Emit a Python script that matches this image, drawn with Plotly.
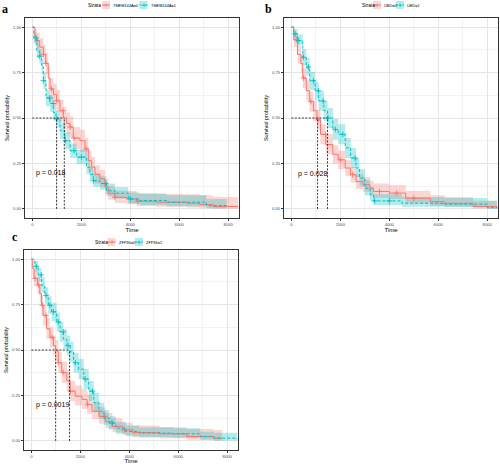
import numpy as np
import plotly.graph_objects as go

RED = "#F8766D"
CYAN = "#00BFC4"
RED_F = "rgba(248,118,109,0.30)"
CYAN_F = "rgba(0,191,196,0.30)"

# ---------------- Panel a: TMEM144A ----------------
a0_t = [0, 100, 180, 300, 450, 545, 650, 720, 860, 990, 1130, 1265, 1400, 1540, 1670, 1945, 2150, 2285, 2420, 2560, 2760, 2965, 3100, 3370, 3850, 4260, 5070, 6300, 6840, 7380, 8400]
a0_s = [1.0, 0.95, 0.925, 0.89, 0.85, 0.80, 0.72, 0.66, 0.63, 0.595, 0.54, 0.50, 0.47, 0.45, 0.39, 0.375, 0.33, 0.265, 0.23, 0.19, 0.165, 0.12, 0.086, 0.064, 0.055, 0.042, 0.037, 0.031, 0.024, 0.013, 0.009]
a0_lo = [1.0, 0.91, 0.88, 0.84, 0.80, 0.74, 0.66, 0.60, 0.57, 0.535, 0.48, 0.44, 0.41, 0.39, 0.33, 0.315, 0.27, 0.21, 0.18, 0.14, 0.12, 0.08, 0.05, 0.032, 0.025, 0.016, 0.012, 0.008, 0.004, 0.001, 0.0]
a0_hi = [1.0, 0.99, 0.97, 0.94, 0.90, 0.86, 0.78, 0.72, 0.69, 0.655, 0.60, 0.56, 0.53, 0.51, 0.45, 0.435, 0.39, 0.32, 0.285, 0.24, 0.215, 0.165, 0.125, 0.10, 0.10, 0.085, 0.082, 0.08, 0.075, 0.065, 0.065]
a0_cens = [200, 450, 560, 780, 1000, 1250, 1550, 1700, 2200, 3370, 4300]

a1_t = [0, 60, 180, 285, 380, 450, 560, 720, 860, 965, 1130, 1330, 1540, 1810, 2215, 2350, 2490, 2760, 3030, 3370, 3920, 4390, 5480, 7110, 7930]
a1_s = [1.0, 0.94, 0.87, 0.84, 0.78, 0.705, 0.61, 0.58, 0.53, 0.495, 0.43, 0.375, 0.32, 0.285, 0.23, 0.19, 0.155, 0.14, 0.10, 0.086, 0.055, 0.046, 0.037, 0.018, 0.009]
a1_lo = [1.0, 0.91, 0.83, 0.80, 0.74, 0.66, 0.565, 0.535, 0.485, 0.45, 0.385, 0.33, 0.28, 0.245, 0.19, 0.155, 0.12, 0.105, 0.07, 0.057, 0.03, 0.022, 0.015, 0.003, 0.0]
a1_hi = [1.0, 0.97, 0.91, 0.88, 0.82, 0.75, 0.655, 0.625, 0.575, 0.54, 0.475, 0.42, 0.36, 0.325, 0.27, 0.23, 0.195, 0.18, 0.14, 0.12, 0.09, 0.085, 0.075, 0.055, 0.05]
a1_cens = [150, 300, 450, 700, 850, 1000, 1350, 1700, 2000, 2500, 3000, 4000]

# ---------------- Panel b: UBD ----------------
b0_t = [0, 100, 250, 390, 465, 610, 750, 900, 1045, 1190, 1405, 1695, 1915, 2200, 2420, 2640, 2930, 3215, 3360, 4000, 4670, 5680, 6260, 7420, 8400]
b0_s = [1.0, 0.93, 0.85, 0.80, 0.72, 0.65, 0.59, 0.54, 0.49, 0.41, 0.354, 0.30, 0.27, 0.225, 0.188, 0.15, 0.133, 0.114, 0.096, 0.087, 0.059, 0.04, 0.031, 0.013, 0.004]
b0_lo = [1.0, 0.89, 0.80, 0.75, 0.665, 0.595, 0.535, 0.485, 0.435, 0.355, 0.30, 0.25, 0.22, 0.18, 0.145, 0.11, 0.095, 0.078, 0.062, 0.054, 0.032, 0.018, 0.012, 0.002, 0.0]
b0_hi = [1.0, 0.97, 0.90, 0.85, 0.775, 0.705, 0.645, 0.595, 0.545, 0.465, 0.41, 0.35, 0.32, 0.27, 0.23, 0.19, 0.175, 0.155, 0.14, 0.13, 0.10, 0.075, 0.065, 0.045, 0.035]
b0_cens = [200, 500, 800, 1100, 1400, 2000, 2500, 3600, 4300, 5000]

b1_t = [0, 100, 250, 465, 610, 750, 970, 1115, 1330, 1480, 1695, 1915, 2200, 2420, 2640, 2780, 3000, 3215, 3360, 4520, 6260, 8000, 8400]
b1_s = [1.0, 0.963, 0.926, 0.834, 0.78, 0.705, 0.65, 0.594, 0.54, 0.50, 0.437, 0.41, 0.336, 0.28, 0.225, 0.17, 0.114, 0.077, 0.044, 0.031, 0.026, 0.007, 0.007]
b1_lo = [1.0, 0.94, 0.90, 0.79, 0.735, 0.655, 0.60, 0.54, 0.485, 0.445, 0.38, 0.355, 0.28, 0.225, 0.175, 0.125, 0.075, 0.045, 0.02, 0.012, 0.009, 0.0, 0.0]
b1_hi = [1.0, 0.99, 0.96, 0.88, 0.83, 0.755, 0.70, 0.65, 0.595, 0.555, 0.495, 0.465, 0.39, 0.335, 0.28, 0.22, 0.16, 0.12, 0.08, 0.065, 0.06, 0.045, 0.045]
b1_cens = [150, 300, 500, 700, 900, 1100, 1300, 1500, 1800, 2100, 2600, 3400, 4000]

# ---------------- Panel c: ZFP36 ----------------
c0_t = [0, 40, 110, 250, 345, 415, 480, 620, 760, 900, 990, 1100, 1240, 1450, 1585, 1790, 2070, 2275, 2480, 2760, 3030, 3310, 3720, 4140, 5240, 6340, 7450, 7790]
c0_s = [1.0, 0.95, 0.894, 0.857, 0.81, 0.746, 0.69, 0.617, 0.57, 0.524, 0.496, 0.43, 0.376, 0.33, 0.274, 0.246, 0.228, 0.20, 0.163, 0.135, 0.107, 0.08, 0.061, 0.046, 0.039, 0.024, 0.015, 0.015]
c0_lo = [1.0, 0.91, 0.85, 0.81, 0.76, 0.69, 0.635, 0.56, 0.515, 0.47, 0.44, 0.375, 0.32, 0.275, 0.22, 0.195, 0.175, 0.15, 0.12, 0.095, 0.07, 0.048, 0.032, 0.02, 0.015, 0.006, 0.001, 0.001]
c0_hi = [1.0, 0.99, 0.94, 0.905, 0.86, 0.80, 0.745, 0.675, 0.625, 0.58, 0.555, 0.49, 0.435, 0.39, 0.33, 0.305, 0.285, 0.255, 0.215, 0.185, 0.155, 0.125, 0.10, 0.085, 0.075, 0.065, 0.06, 0.06]
c0_cens = [150, 300, 450, 600, 850, 1100, 1300, 1600, 2300, 3000, 3800]

c1_t = [0, 140, 275, 415, 550, 690, 830, 1035, 1170, 1310, 1450, 1585, 1725, 1930, 2140, 2345, 2550, 2760, 2965, 3170, 3450, 3860, 4410, 5790, 6900, 7450, 8400]
c1_s = [1.0, 0.96, 0.913, 0.857, 0.80, 0.746, 0.71, 0.654, 0.60, 0.56, 0.524, 0.49, 0.43, 0.394, 0.34, 0.274, 0.21, 0.163, 0.126, 0.098, 0.07, 0.052, 0.043, 0.039, 0.024, 0.015, 0.009]
c1_lo = [1.0, 0.93, 0.875, 0.815, 0.755, 0.70, 0.66, 0.60, 0.545, 0.505, 0.47, 0.435, 0.375, 0.34, 0.285, 0.22, 0.16, 0.12, 0.088, 0.063, 0.04, 0.026, 0.02, 0.017, 0.007, 0.002, 0.0]
c1_hi = [1.0, 0.99, 0.95, 0.90, 0.845, 0.795, 0.76, 0.705, 0.655, 0.615, 0.58, 0.545, 0.485, 0.45, 0.395, 0.33, 0.265, 0.21, 0.17, 0.135, 0.105, 0.085, 0.075, 0.07, 0.05, 0.045, 0.04]
c1_cens = [200, 400, 600, 750, 900, 1100, 1300, 1500, 1800, 2200, 2500, 3300]

# medians (group 0, group 1) and p-values
medians_a = [1306, 990]
medians_b = [1070, 1478]
medians_c = [993, 1560]
pvals = ["p = 0.018", "p = 0.028", "p = 0.0019"]
strata_labels = [["TMEM144A=0", "TMEM144A=1"], ["UBD=0", "UBD=1"], ["ZFP36=0", "ZFP36=1"]]
panel_letters = ["a", "b", "c"]
x_ticks = [0, 2000, 4000, 6000, 8000]
y_ticks = [0.0, 0.25, 0.5, 0.75, 1.0]
y_tick_text = ["0.00", "0.25", "0.50", "0.75", "1.00"]

W, H = 500, 464
def px_x(p): return p / W
def px_y(p): return 1 - p / H

panels = [
    dict(groups=[(a0_t, a0_s, a0_lo, a0_hi, a0_cens), (a1_t, a1_s, a1_lo, a1_hi, a1_cens)],
         med=medians_a, dom_x=[25, 239], dom_y=[18, 218], pv=(755, 0.196)),
    dict(groups=[(b0_t, b0_s, b0_lo, b0_hi, b0_cens), (b1_t, b1_s, b1_lo, b1_hi, b1_cens)],
         med=medians_b, dom_x=[284, 498], dom_y=[18, 218], pv=(850, 0.194)),
    dict(groups=[(c0_t, c0_s, c0_lo, c0_hi, c0_cens), (c1_t, c1_s, c1_lo, c1_hi, c1_cens)],
         med=medians_c, dom_x=[24, 238], dom_y=[250, 450], pv=(860, 0.20)),
]

colors = [RED, CYAN]
fills = [RED_F, CYAN_F]
dashes = ["solid", "3px,2px"]

fig = go.Figure()
FONT = "Liberation Sans, Arial, sans-serif"

def step_at(t, s, x):
    t = np.asarray(t); s = np.asarray(s)
    idx = np.searchsorted(t, x, side="right") - 1
    return s[np.clip(idx, 0, len(s) - 1)]

for i, p in enumerate(panels):
    sfx = "" if i == 0 else str(i + 1)
    xa, ya = "x" + sfx, "y" + sfx
    for g, (t, s, lo, hi, cens) in enumerate(p["groups"]):
        fig.add_trace(go.Scatter(x=t, y=lo, xaxis=xa, yaxis=ya, mode="lines",
                                 line=dict(width=0, shape="hv", color=colors[g]),
                                 showlegend=False, hoverinfo="skip"))
        fig.add_trace(go.Scatter(x=t, y=hi, xaxis=xa, yaxis=ya, mode="lines",
                                 line=dict(width=0, shape="hv", color=colors[g]),
                                 fill="tonexty", fillcolor=fills[g],
                                 showlegend=False, hoverinfo="skip"))
    for g, (t, s, lo, hi, cens) in enumerate(p["groups"]):
        fig.add_trace(go.Scatter(x=t, y=s, xaxis=xa, yaxis=ya, mode="lines",
                                 line=dict(width=1, shape="hv", color=colors[g], dash=dashes[g]),
                                 showlegend=False))
        fig.add_trace(go.Scatter(x=cens, y=step_at(t, s, cens), xaxis=xa, yaxis=ya, mode="markers",
                                 marker=dict(symbol="cross-thin", size=4,
                                             line=dict(width=0.9, color=colors[g])),
                                 showlegend=False))
    # median lines
    mmax = max(p["med"])
    fig.add_trace(go.Scatter(x=[0, mmax], y=[0.5, 0.5], xaxis=xa, yaxis=ya, mode="lines",
                             line=dict(color="#222222", width=0.9, dash="2px,1.5px"), showlegend=False))
    for m in p["med"]:
        fig.add_trace(go.Scatter(x=[m, m], y=[0, 0.5], xaxis=xa, yaxis=ya, mode="lines",
                                 line=dict(color="#222222", width=0.9, dash="2px,1.5px"), showlegend=False))
    fig.add_annotation(x=p["pv"][0], y=p["pv"][1], xref=xa, yref=ya, text=pvals[i],
                       xanchor="center", yanchor="middle",
                       showarrow=False, font=dict(size=7, color="black", family=FONT))

    axis_common = dict(showline=True, mirror=True, linecolor="#333333", linewidth=1,
                       ticks="outside", ticklen=2, tickcolor="#333333", automargin=False,
                       gridcolor="#e5e5e5", gridwidth=0.6, zeroline=False,
                       tickfont=dict(size=4.2, color="#4d4d4d", family=FONT))
    fig.layout["xaxis" + sfx] = dict(
        axis_common, domain=[px_x(p["dom_x"][0]), px_x(p["dom_x"][1])],
        anchor=ya, range=[-300, 8440], tickvals=x_ticks,
        minor=dict(tickvals=[1000, 3000, 5000, 7000], showgrid=True, gridcolor="#f2f2f2", gridwidth=0.5, ticks=""),
        title=dict(text="Time", font=dict(size=6, color="black", family=FONT), standoff=1))
    fig.layout["yaxis" + sfx] = dict(
        axis_common, domain=[px_y(p["dom_y"][1]), px_y(p["dom_y"][0])],
        anchor=xa, range=[-0.05, 1.05], tickvals=y_ticks, ticktext=y_tick_text,
        minor=dict(tickvals=[0.125, 0.375, 0.625, 0.875], showgrid=True, gridcolor="#f2f2f2", gridwidth=0.5, ticks=""),
        title=dict(text="Survival probability", font=dict(size=5.5, color="black", family=FONT), standoff=3))

# manual legends (px positions)
legends = [
    dict(title_x=86, y=5, keys=[106, 143.5], texts=[111, 149]),
    dict(title_x=360, y=5, keys=[377, 400], texts=[381.5, 404.5]),
    dict(title_x=93, y=242, keys=[111.5, 139], texts=[116.5, 144]),
]
for i, L in enumerate(legends):
    fig.add_annotation(x=px_x(L["title_x"]), y=px_y(L["y"]), xref="paper", yref="paper",
                       xanchor="left", yanchor="middle",
                       text="Strata", showarrow=False, font=dict(size=4.8, color="black", family=FONT))
    for g in range(2):
        kx = L["keys"][g]
        fig.add_shape(type="rect", xref="paper", yref="paper",
                      x0=px_x(kx - 4), x1=px_x(kx + 4), y0=px_y(L["y"] + 4), y1=px_y(L["y"] - 4),
                      fillcolor=fills[g], line=dict(width=0))
        fig.add_shape(type="line", xref="paper", yref="paper",
                      x0=px_x(kx - 4), x1=px_x(kx + 4), y0=px_y(L["y"]), y1=px_y(L["y"]),
                      line=dict(color=colors[g], width=1, dash="solid" if g == 0 else "2px,1px"))
        fig.add_annotation(x=px_x(kx), y=px_y(L["y"]), xref="paper", yref="paper", text="+",
                           xanchor="center", yanchor="middle",
                           showarrow=False, font=dict(size=7, color=colors[g], family=FONT))
        fig.add_annotation(x=px_x(L["texts"][g]), y=px_y(L["y"]), xref="paper", yref="paper",
                           xanchor="left", yanchor="middle",
                           text=strata_labels[i][g], showarrow=False,
                           font=dict(size=3.9, color="black", family=FONT))

letter_pos = [(5, 9), (268, 9), (15, 237)]
for letter, (lx, ly) in zip(panel_letters, letter_pos):
    fig.add_annotation(x=px_x(lx), y=px_y(ly), xref="paper", yref="paper", text="<b>%s</b>" % letter,
                       xanchor="center", yanchor="middle",
                       showarrow=False, font=dict(size=12, color="black", family="Liberation Serif, serif"))

fig.update_layout(width=W, height=H, margin=dict(l=0, r=0, t=0, b=0),
                  paper_bgcolor="white", plot_bgcolor="white", showlegend=False)
fig.write_html("out.html", post_script="document.body.style.margin='0px';",
               config={"displayModeBar": False})
